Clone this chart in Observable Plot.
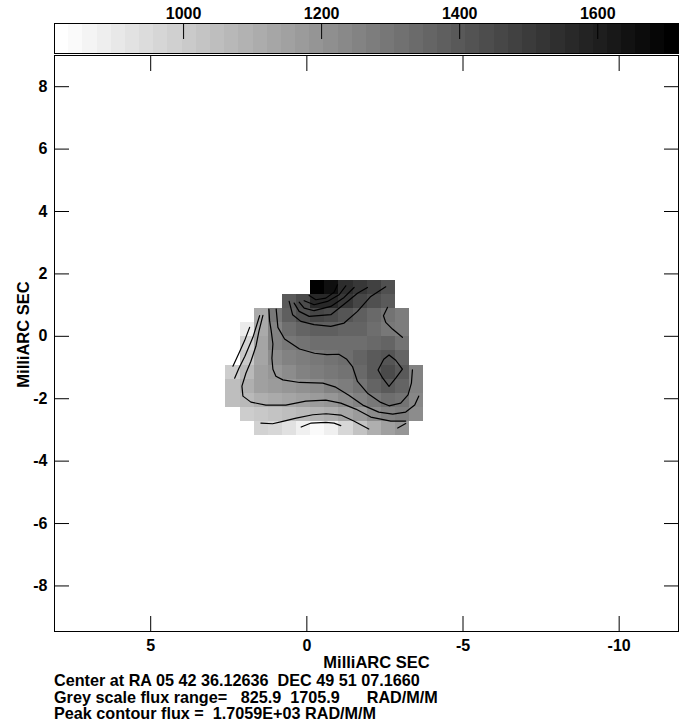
<!DOCTYPE html>
<html>
<head>
<meta charset="utf-8">
<script src="https://cdn.jsdelivr.net/npm/d3@7"></script>
<script src="https://cdn.jsdelivr.net/npm/@observablehq/plot@0.6"></script>
<style>
  body { margin: 0; background: #fff; }
  #page { position: relative; width: 687px; height: 723px; overflow: hidden;
          font-family: "Liberation Sans", Arial, Helvetica, sans-serif; font-weight: bold; color: #000; }
  #bar { position: absolute; left: 0; top: 0; }
  #map { position: absolute; left: 0; top: 54px; }
  #caption { position: absolute; left: 54px; top: 672px; font-size: 16.2px; line-height: 16.5px; white-space: pre; }
</style>
</head>
<body>
<div id="page">
  <div id="bar"></div>
  <div id="map"></div>
  <div id="caption"></div>
</div>
<script>
// Grey-scale range of the rotation-measure map (RAD/M/M)
const fluxRange = [825.9, 1705.9];
const barDomain = [813, 1717];
const barTicks = [1000, 1200, 1400, 1600];
const barSteps = 44;

// Axis ticks, milliarcseconds relative to the map centre
const xTicks = [5, 0, -5, -10];
const yTicks = [8, 6, 4, 2, 0, -2, -4, -6, -8];
const xDomain = [8.08, -11.9];
const yDomain = [-9.46, 9.0];

// Map pixel grid (mas): centre of the first column / first row and pixel size
const firstColX = 2.364;
const firstRowY = 1.566;
const pixelSize = 0.452;

// Rotation measure per pixel, rows from north to south, columns east to west (null = blanked)
const rm = [
  [null, null, null, null, null, null, 1706, 1654, 1551, 1516, 1482, 1430, null, null],
  [null, null, null, null, 1395, 1447, 1568, 1568, 1516, 1464, 1430, 1395, null, null],
  [null, null, 1119, 1292, 1378, 1430, 1464, 1447, 1413, 1378, 1344, 1309, 1275, null],
  [null, 895, 1119, 1257, 1326, 1361, 1378, 1378, 1361, 1361, 1326, 1292, 1275, null],
  [null, 981, 1137, 1257, 1292, 1309, 1326, 1326, 1326, 1326, 1344, 1361, 1309, null],
  [null, 1016, 1137, 1223, 1257, 1275, 1292, 1309, 1326, 1361, 1395, 1413, 1361, null],
  [999, 1068, 1154, 1188, 1223, 1257, 1275, 1292, 1309, 1344, 1395, 1447, 1395, 1257],
  [1050, 1102, 1154, 1171, 1188, 1206, 1223, 1257, 1275, 1309, 1361, 1395, 1361, 1257],
  [1050, 1068, 1102, 1119, 1137, 1154, 1171, 1188, 1223, 1257, 1292, 1326, 1309, 1240],
  [null, 999, 1016, 1033, 1050, 1068, 1085, 1102, 1137, 1171, 1223, 1257, 1275, 1223],
  [null, null, 981, 964, 930, 878, 843, 878, 964, 1033, 1102, 1154, 1188, null]
];

// Contour lines, vertices as [x, y] in mas
const contourT1 = [[-0.074, 1.310], [-0.288, 1.173], [-0.608, 1.224], [-0.873, 1.415], [-0.982, 1.652]];
const contourT2 = [[0.086, 1.141], [-0.233, 1.013], [-0.662, 1.118], [-1.033, 1.332], [-1.247, 1.620]];
const contourT3 = [[0.246, 1.096], [0.086, 0.904], [-0.233, 0.821], [-0.768, 0.958], [-1.193, 1.246], [-1.513, 1.565]];
const contourT4 = [[0.406, 1.064], [0.246, 0.799], [-0.074, 0.639], [-0.768, 0.693], [-1.302, 1.118], [-1.621, 1.383], [-1.941, 1.565]];
const contourT5 = [[0.566, 1.118], [0.457, 0.693], [0.192, 0.479], [-0.233, 0.374], [-0.768, 0.319], [-1.193, 0.425], [-1.621, 0.799], [-2.047, 1.278], [-2.526, 1.588]];
const contourS1 = [[0.982, 0.872], [0.927, 0.288], [0.713, -0.086], [0.233, -0.406], [-0.246, -0.543], [-0.640, -0.585], [-1.023, -0.575], [-1.279, -0.735], [-1.461, -0.968], [-1.621, -1.447], [-1.941, -1.821], [-2.367, -2.118], [-2.632, -2.227], [-3.006, -2.141], [-3.240, -1.875], [-3.348, -1.502], [-3.380, -1.077]];
const contourS2 = [[1.215, 0.863], [1.193, 0.502], [1.142, 0.182], [1.087, -0.246], [1.119, -0.703], [1.087, -1.054], [0.991, -1.278], [0.768, -1.396], [0.233, -1.479], [-0.512, -1.502], [-0.927, -1.629], [-1.343, -1.885], [-1.791, -2.204], [-2.303, -2.428], [-2.750, -2.492], [-3.166, -2.428], [-3.454, -2.204], [-3.582, -1.917]];
const contourS3 = [[1.407, 0.671], [1.535, 0.160], [1.631, -0.319], [1.791, -0.799], [1.951, -1.182], [2.079, -1.597], [2.047, -1.917], [1.791, -2.109], [1.311, -2.204], [0.672, -2.204], [0.032, -2.077], [-0.608, -2.045], [-1.087, -2.141], [-1.567, -2.332], [-2.047, -2.588], [-2.686, -2.716], [-3.166, -2.716]];
const contourA = [[1.513, 0.661], [1.727, -0.032], [1.983, -0.639], [2.175, -1.022], [2.312, -1.342]];
const contourB = [[1.832, 0.288], [1.992, -0.137], [2.175, -0.543], [2.367, -0.958]];
const contourB1 = [[1.471, -2.780], [1.097, -2.802], [0.768, -2.725], [0.342, -2.620], [-0.192, -2.514], [-0.617, -2.482], [-1.087, -2.524], [-1.503, -2.716], [-1.983, -2.971]];
const contourB2 = [[0.182, -2.907], [-0.138, -2.780], [-0.608, -2.757], [-0.873, -2.780], [-1.087, -2.860]];
const contourB3 = [[-2.910, -2.939], [-3.166, -2.796]];
const contourR = [[-2.581, 0.927], [-2.453, 0.661], [-2.526, 0.447], [-2.741, 0.233], [-3.060, -0.032]];
const contourD = [[-2.280, -1.077], [-2.462, -0.735], [-2.632, -0.597], [-2.846, -0.767], [-3.060, -1.054], [-2.846, -1.342], [-2.632, -1.607], [-2.430, -1.342], [-2.280, -1.077]];

const captionLines = [
  "Center at RA 05 42 36.12636  DEC 49 51 07.1660",
  "Grey scale flux range=   825.9  1705.9      RAD/M/M",
  "Peak contour flux =  1.7059E+03 RAD/M/M"
];
const axisLabel = "MilliARC SEC";

// ---- derived tables ----
const half = pixelSize / 2;
const pixels = rm.flatMap((row, j) => row.map((v, i) => v == null ? null : {
  x: firstColX - i * pixelSize,
  y: firstRowY - j * pixelSize,
  v
})).filter(Boolean);

const contours = [contourT1, contourT2, contourT3, contourT4, contourT5, contourS1, contourS2, contourS3,
  contourA, contourB, contourB1, contourB2, contourB3, contourR, contourD];
const contourPoints = contours.flatMap((pts, id) => pts.map(([x, y]) => ({id, x, y})));

const stepWidth = (barDomain[1] - barDomain[0]) / barSteps;
const steps = d3.range(barSteps).map(k => ({
  v0: barDomain[0] + k * stepWidth,
  v1: barDomain[0] + (k + 1) * stepWidth
}));

const greyScale = {type: "linear", domain: fluxRange, range: ["#ffffff", "#000000"], clamp: true};
const font = {fontFamily: "Liberation Sans, Arial, Helvetica, sans-serif", fontSize: "16px", fontWeight: "bold", color: "#000", background: "transparent", overflow: "visible"};
const blank = () => "";
const plain = d => String(d);   // ASCII hyphen for negatives, no thousands separator

// ---- grey-scale wedge ----
const bar = Plot.plot({
  width: 687, height: 54,
  marginTop: 23, marginBottom: 1, marginLeft: 54, marginRight: 9,
  x: {domain: barDomain},
  color: greyScale,
  style: font,
  marks: [
    Plot.rect(steps, {x1: "v0", x2: "v1", fill: d => (d.v0 + d.v1) / 2, shapeRendering: "crispEdges"}),
    Plot.frame({stroke: "#000"}),
    Plot.axisX({anchor: "top", ticks: barTicks, tickSize: 0, tickPadding: 5, tickFormat: plain, label: null}),
    Plot.axisX({anchor: "top", ticks: barTicks, tickSize: -15, tickFormat: blank, label: null})
  ]
});
document.getElementById("bar").append(bar);

// ---- map ----
const map = Plot.plot({
  width: 687, height: 618,
  marginTop: 1, marginBottom: 41, marginLeft: 54, marginRight: 9,
  x: {domain: xDomain},
  y: {domain: yDomain},
  color: greyScale,
  style: font,
  marks: [
    Plot.rect(pixels, {x1: d => d.x + half, x2: d => d.x - half, y1: d => d.y - half, y2: d => d.y + half, fill: "v", shapeRendering: "crispEdges"}),
    Plot.line(contourPoints, {x: "x", y: "y", z: "id", stroke: "#000", strokeWidth: 1.2}),
    Plot.frame({stroke: "#000"}),
    Plot.axisX({anchor: "bottom", ticks: xTicks, tickSize: 0, tickPadding: 8, tickFormat: plain, label: null}),
    Plot.axisX({anchor: "bottom", ticks: xTicks, tickSize: -15, tickFormat: blank, label: null}),
    Plot.axisX({anchor: "top", ticks: xTicks, tickSize: -15, tickFormat: blank, label: null}),
    Plot.axisY({anchor: "left", ticks: yTicks, tickSize: 0, tickPadding: 7, tickFormat: plain, label: null}),
    Plot.axisY({anchor: "left", ticks: yTicks, tickSize: -15, tickFormat: blank, label: null}),
    Plot.axisY({anchor: "right", ticks: yTicks, tickSize: -15, tickFormat: blank, label: null}),
    Plot.text([axisLabel], {frameAnchor: "bottom", textAnchor: "middle", lineAnchor: "middle", dy: 31, dx: 10, fontSize: 16.5}),
    Plot.text([axisLabel], {frameAnchor: "left", textAnchor: "middle", lineAnchor: "middle", rotate: -90, dx: -31, dy: -9, fontSize: 16.5})
  ]
});
document.getElementById("map").append(map);

document.getElementById("caption").textContent = captionLines.join("\n");
</script>
</body>
</html>
